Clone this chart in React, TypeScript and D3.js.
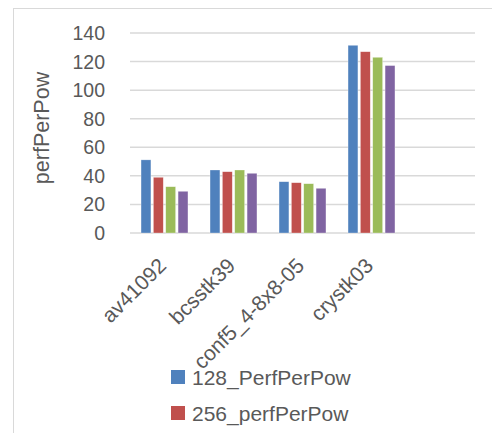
import * as d3 from "d3";

const categories = ["av41092", "bcsstk39", "conf5_4-8x8-05", "crystk03", ""];
const seriesNames = ["128_PerfPerPow", "256_perfPerPow", "series3", "series4"];
const series128 = [51.2, 44.1, 35.9, 131.4];
const series256 = [39.0, 42.9, 35.2, 126.9];
const series3 = [32.4, 44.1, 34.5, 123.0];
const series4 = [29.2, 41.8, 31.3, 117.2];
const yTicks = [0, 20, 40, 60, 80, 100, 120, 140];
const legendShown = ["128_PerfPerPow", "256_perfPerPow"];

const colors = ["#4f81bd", "#c0504d", "#9bbb59", "#8064a2"];
const values = [series128, series256, series3, series4];

const width = 492;
const height = 433;
const font = "'Liberation Sans', Arial, sans-serif";
const textColor = "#595959";

function App() {
  const xScale = d3.scaleBand<string>()
    .domain(categories)
    .range([130, 475])
    .paddingInner(0.32)
    .paddingOuter(0.16);

  const x1 = d3.scaleBand<string>()
    .domain(seriesNames)
    .range([0, xScale.bandwidth()])
    .paddingInner(0.2);

  const yScale = d3.scaleLinear().domain([0, 140]).range([233, 33]);

  const color = d3.scaleOrdinal<string, string>().domain(seriesNames).range(colors);

  return (
    <svg width={width} height={height} style={{ position: "absolute", left: 0, top: 0 }}>
      <rect x={0} y={0} width={width} height={height} fill="#fff" />
      {/* chart frame, cut by the picture edge */}
      <rect x={13.5} y={8.5} width={600} height={600} fill="none" stroke="#d9d9d9" />

      {/* grid */}
      {yTicks.map(t => (
        <line key={t} x1={130} x2={475} y1={yScale(t)} y2={yScale(t)} stroke="#d9d9d9" strokeWidth={1.5} />
      ))}
      {yTicks.map(t => (
        <text key={"l" + t} x={105} y={yScale(t)} dy="0.36em" textAnchor="end"
          fontFamily={font} fontSize={19.5} fill={textColor}>{t}</text>
      ))}

      {/* bars */}
      {categories.slice(0, 4).map((c, i) => (
        <g key={c} transform={`translate(${xScale(c)},0)`}>
          {seriesNames.map((s, j) => (
            <rect key={s} x={x1(s)} y={yScale(values[j][i])} width={x1.bandwidth()}
              height={yScale(0) - yScale(values[j][i])} fill={color(s)}
              stroke="#ffffff" strokeOpacity={0.5} strokeWidth={0.6} />
          ))}
        </g>
      ))}

      {/* category labels */}
      {categories.filter(c => c !== "").map(c => {
        const cx = (xScale(c) ?? 0) + xScale.bandwidth() / 2 + 3;
        return (
          <text key={c} transform={`translate(${cx},267) rotate(-45)`} textAnchor="end"
            fontFamily={font} fontSize={21} fill={textColor}>{c}</text>
        );
      })}

      {/* y title */}
      <text transform="translate(49,128) rotate(-90)" textAnchor="middle"
        fontFamily={font} fontSize={21.5} fill={textColor}>perfPerPow</text>

      {/* legend */}
      {legendShown.map((s, i) => (
        <g key={s} transform={`translate(171,${370 + i * 36})`}>
          <rect x={0} y={0} width={14} height={14} fill={color(s)} />
          <text x={21} y={15} fontFamily={font} fontSize={21} fill={textColor}>{s}</text>
        </g>
      ))}
    </svg>
  );
}

export default App;
